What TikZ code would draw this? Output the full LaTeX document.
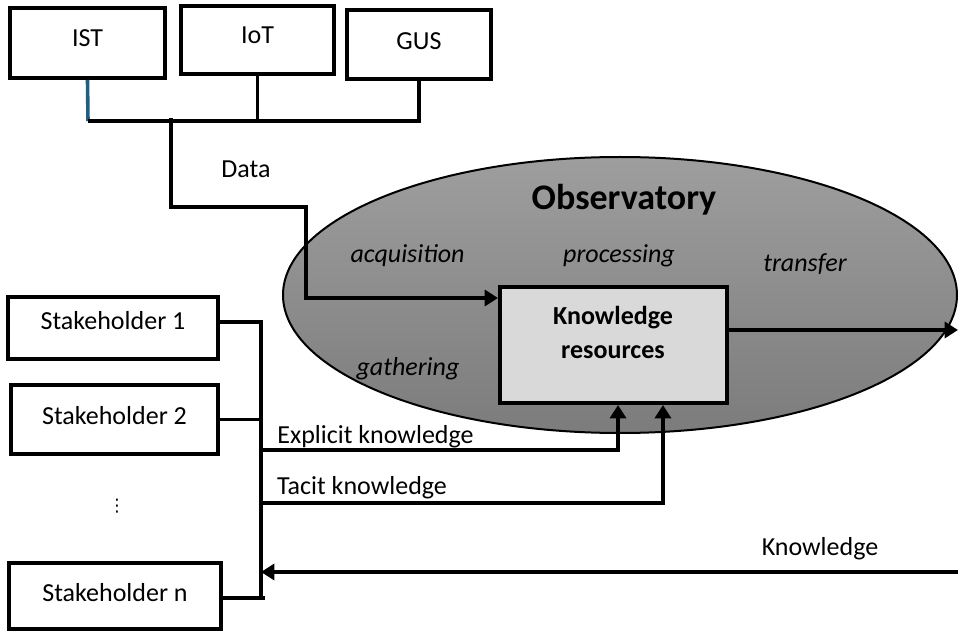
\documentclass[tikz,border=0pt]{standalone}
\usepackage{fontspec}
\setmainfont{Carlito}
\newfontfamily\dejavu{DejaVu Sans}
\usetikzlibrary{arrows.meta,calc}
\definecolor{istblue}{RGB}{31,96,128}
\definecolor{krfill}{RGB}{217,217,217}
\definecolor{elltop}{RGB}{158,158,158}
\definecolor{ellbot}{RGB}{124,124,124}
\begin{document}
\begin{tikzpicture}[x=0.75pt,y=-0.75pt,
  txt/.style={font=\fontsize{19.5}{23}\selectfont},
  box/.style={draw, line width=3pt, fill=white, inner sep=0pt, txt},
  conn/.style={line width=2.7pt},
  arr/.style={conn, -{Triangle[length=10pt,width=12pt]}},
  lbl/.style={inner sep=0pt, anchor=base, txt},
  ital/.style={inner sep=0pt, anchor=base, font=\fontsize{19.5}{23}\selectfont\itshape},
]
\useasboundingbox (0,0) rectangle (958,631);

% Observatory ellipse
\shade[top color=elltop, bottom color=ellbot, draw=black, line width=1.5pt]
  (620,295) ellipse [x radius=337*0.75pt, y radius=138*0.75pt];

% Source boxes
\node[box, minimum width=155*0.75pt, minimum height=70*0.75pt, text depth=7.5pt] (ist) at (87.5,43) {IST};
\node[box, minimum width=153*0.75pt, minimum height=68*0.75pt, text depth=7.5pt] (iot) at (257.5,40) {IoT};
\node[box, minimum width=144*0.75pt, minimum height=69*0.75pt, text depth=5pt] (gus) at (419,44.5) {GUS};

% Knowledge resources
\node[draw, line width=3pt, fill=krfill, minimum width=227*0.75pt, minimum height=116*0.75pt] (kr) at (613.5,345) {};
\node[align=center, inner sep=0pt, font=\fontsize{19.5}{25.5}\selectfont\bfseries] (krt) at (613,332) {Knowledge\\resources};

% Stakeholders
\node[box, minimum width=210*0.75pt, minimum height=62*0.75pt, text depth=12pt] (s1) at (113,328) {Stakeholder 1};
\node[box, minimum width=207*0.75pt, minimum height=69*0.75pt, text depth=6.75pt] (s2) at (114.5,419.5) {Stakeholder 2};
\node[box, minimum width=212*0.75pt, minimum height=66*0.75pt, text depth=6pt] (sn) at (115,596) {Stakeholder n};
\node[inner sep=0pt, font=\fontsize{13}{15}\selectfont\dejavu] (dots) at (117,506) {⋮};

% Coordinates
\coordinate (b1) at (88,121);
\coordinate (b3) at (419,121);
\coordinate (d0) at (171,118);
\coordinate (d1) at (306,207);
\coordinate (d2) at (306,298);
\coordinate (o1) at (958,330);
\coordinate (bt) at (261,322);
\coordinate (bb) at (261,598);
\coordinate (e0) at (261,450);
\coordinate (t0) at (261,503);
\coordinate (k0) at (958,572);

% Source connectors
\draw[conn, draw=istblue] (ist.south) -- (b1);
\draw[conn] (b1) -- (b3) -- (gus.south);
\draw[conn] (iot.south) -- (iot.south |- b1);
\draw[arr] (d0) |- (d1) -- (d2) -- (kr.west |- d2);

% Output
\draw[arr] (kr.east |- o1) -- (o1);

% Stakeholder bus
\draw[conn] (s1.east |- bt) -- (bt) -- (bb);
\draw[conn] (s2.east) -- (s2.east -| bt);
\draw[conn] (sn.east |- bb) -- ([xshift=3pt]bb);
\draw[arr] (e0) -| ([xshift=3.4pt]kr.south);
\draw[arr] (t0) -| ([xshift=37.1pt]kr.south);
\draw[arr] (k0) -- (bt |- k0);

% Labels
\node[lbl] (ldata) at (246,178) {Data};
\node[lbl] (lexp) at (375.5,443) {Explicit knowledge};
\node[lbl] (ltac) at (362,494) {Tacit knowledge};
\node[lbl] (lknow) at (820,555) {Knowledge};
\node[inner sep=0pt, anchor=base, font=\fontsize{27}{32}\selectfont\bfseries] (obs) at (624,210) {Observatory};
\node[ital] (acq) at (407.5,263) {acquisition};
\node[ital] (proc) at (619,263) {processing};
\node[ital] (trans) at (805,272) {transfer};
\node[ital] (gath) at (408,375) {gathering};
\end{tikzpicture}
\end{document}
